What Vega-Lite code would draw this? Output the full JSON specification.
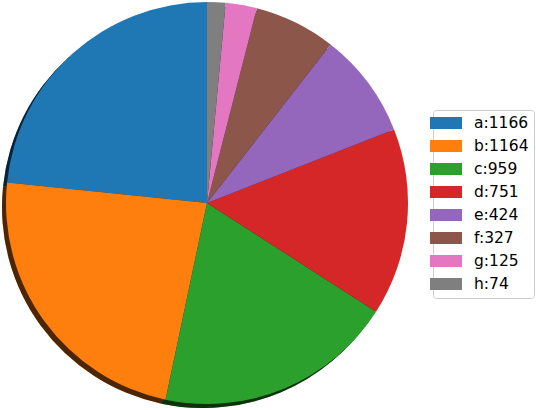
{
  "$schema": "https://vega.github.io/schema/vega-lite/v6.json",
  "width": 414,
  "height": 406,
  "padding": 0,
  "background": "white",
  "config": {"view": {"stroke": null}, "font": "DejaVu Sans"},
  "data": {"values": [
    {"idx": 1, "label": "a:1166", "value": 1166},
    {"idx": 2, "label": "b:1164", "value": 1164},
    {"idx": 3, "label": "c:959", "value": 959},
    {"idx": 4, "label": "d:751", "value": 751},
    {"idx": 5, "label": "e:424", "value": 424},
    {"idx": 6, "label": "f:327", "value": 327},
    {"idx": 7, "label": "g:125", "value": 125},
    {"idx": 8, "label": "h:74", "value": 74}
  ]},
  "encoding": {
    "theta": {"field": "value", "type": "quantitative", "stack": true},
    "order": {"field": "idx", "type": "quantitative", "sort": "descending"},
    "color": {"field": "label", "type": "nominal",
      "scale": {"domain": ["a:1166","b:1164","c:959","d:751","e:424","f:327","g:125","h:74"],
                "range": ["#1f77b4","#ff7f0e","#2ca02c","#d62728","#9467bd","#8c564b","#e377c2","#7f7f7f"]},
      "legend": {
        "title": null,
        "orient": "none",
        "legendX": 433,
        "legendY": 110,
        "padding": 5,
        "strokeColor": "#cccccc",
        "cornerRadius": 3,
        "fillColor": "white",
        "symbolType": "M-2,-0.75L2,-0.75L2,0.75L-2,0.75Z",
        "symbolSize": 256,
        "symbolStrokeWidth": 0,
        "symbolOpacity": 1,
        "labelFontSize": 15.5,
        "labelFont": "DejaVu Sans",
        "labelColor": "black",
        "labelOffset": 20,
        "rowPadding": 6
      }
    }
  },
  "layer": [
    {
      "mark": {"type": "arc", "outerRadius": 201, "x": {"expr": "width/2 - 4"}, "y": {"expr": "height/2 + 4"}}
    },
    {
      "mark": {"type": "arc", "outerRadius": 201, "x": {"expr": "width/2 - 4"}, "y": {"expr": "height/2 + 4"}, "fill": "black", "opacity": 0.7}
    },
    {
      "mark": {"type": "arc", "outerRadius": 201}
    }
  ]
}
